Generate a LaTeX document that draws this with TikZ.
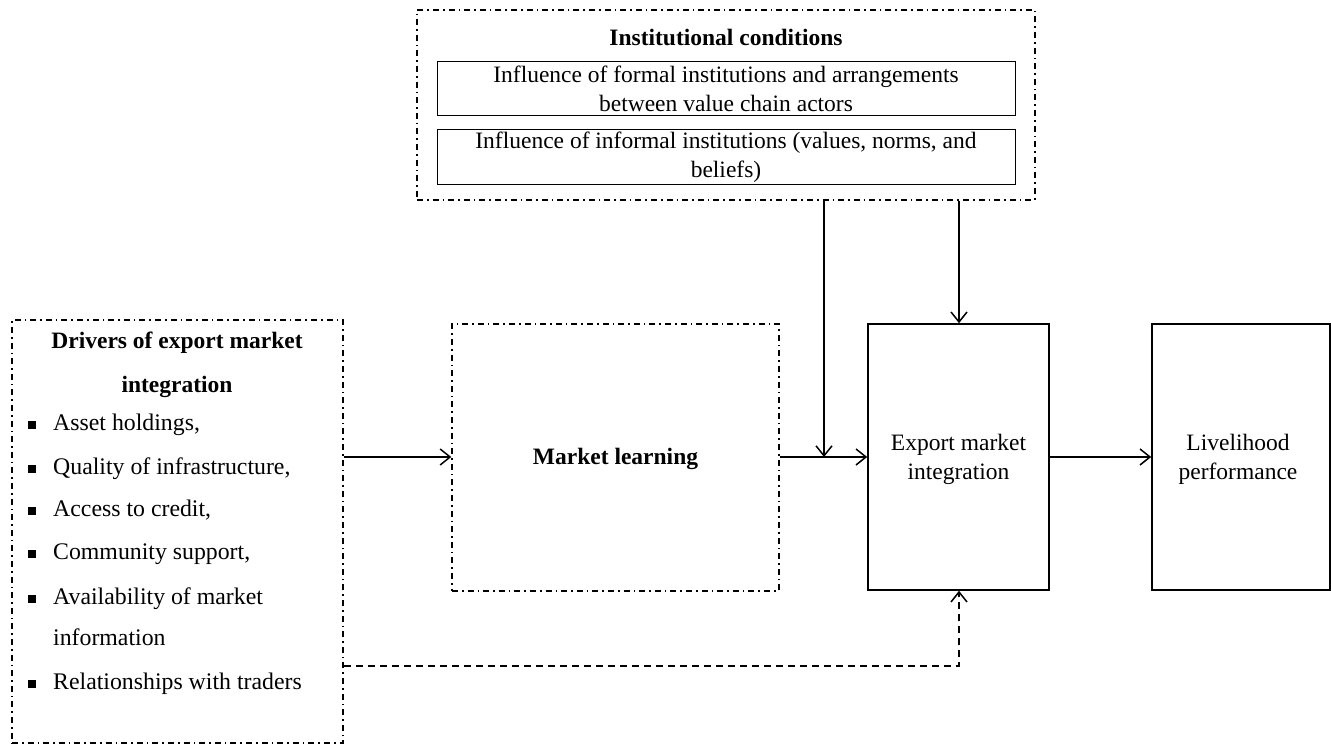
\documentclass[tikz,border=0pt]{standalone}
\usepackage{fontspec}
\setmainfont{Liberation Serif}
\usetikzlibrary{arrows.meta}
\tikzset{
  dashdot/.style={line width=1.3pt, dash pattern=on 6pt off 4pt on 1.6pt off 4pt},
  solidbox/.style={draw, line width=1.6pt, inner sep=0pt},
  thinbox/.style={draw, line width=1pt, inner sep=0pt, align=center},
  conn/.style={line width=1.6pt, -{Straight Barb[length=10pt,width=16pt,line width=1.5pt]}},
  dconn/.style={conn, dash pattern=on 7pt off 5pt},
  txt/.style={font=\fontsize{23.5}{27}\selectfont, inner sep=0pt, align=center},
  bulletsq/.style={fill, minimum size=7.5pt, inner sep=0pt},
}
\begin{document}
\begin{tikzpicture}[x=1pt,y=1pt]
\useasboundingbox (0,0) rectangle (1331,744);
% institutional conditions
\node[draw, dashdot, minimum width=618pt, minimum height=190pt, inner sep=0pt] (inst) at (726,639) {};
\node[txt, font=\fontsize{23.5}{27}\selectfont\bfseries] (insttitle) at (726,706) {Institutional conditions};
\node[thinbox, minimum width=578pt, minimum height=54pt, font=\fontsize{23.5}{29}\selectfont] (formal) at (726,655) {Influence of formal institutions and arrangements\\between value chain actors};
\node[thinbox, minimum width=578pt, minimum height=55pt, font=\fontsize{23.5}{29}\selectfont] (informal) at (726,586.5) {Influence of informal institutions (values, norms, and\\beliefs)};
% drivers
\node[draw, dashdot, minimum width=331pt, minimum height=423pt, inner sep=0pt] (drivers) at (177.5,212.5) {};
\node[txt, font=\fontsize{23.5}{27}\selectfont\bfseries] (dt1) at (177,401) {Drivers of export market};
\node[txt, font=\fontsize{23.5}{27}\selectfont\bfseries] (dt2) at (177,357) {integration};
\foreach \y/\t/\b [count=\i] in {316/{Asset holdings,}/1, 272/{Quality of infrastructure,}/1, 230/{Access to credit,}/1, 187/{Community support,}/1, 142/{Availability of market}/1, 101/{information}/0, 57/{Relationships with traders}/1}{
  \node[txt, anchor=mid west, font=\fontsize{23.8}{27}\selectfont] (item\i) at (53,\y) {\t};
  \ifnum\b=1 \node[bulletsq] (bul\i) at (32,\y+3) {};\fi
}
% market learning
\node[draw, dashdot, minimum width=327pt, minimum height=267pt, inner sep=0pt] (ml) at (615.5,286.5) {};
\node[txt, font=\fontsize{23.5}{27}\selectfont\bfseries] (mltext) at (615.5,285) {Market learning};
% export
\node[solidbox, minimum width=181pt, minimum height=266pt] (exp) at (958.5,287) {};
\node[txt, font=\fontsize{23.5}{29}\selectfont] (exptext) at (958.5,285) {Export market\\integration};
% livelihood
\node[solidbox, minimum width=178pt, minimum height=266pt] (liv) at (1241,287) {};
\node[txt, font=\fontsize{23.5}{29}\selectfont] (livtext) at (1238,285) {Livelihood\\performance};
% connectors
\coordinate (join) at (824,287);
\draw[conn] (drivers.east |- join) -- (ml.west |- join);
\draw[line width=1.6pt] (ml.east |- join) -- (join);
\draw[conn] (join) -- (exp.west |- join);
\draw[conn] (exp.east |- join) -- (liv.west |- join);
\draw[conn] (inst.south -| join) -- (join);
\draw[conn] (inst.south -| 959,0) -- (exp.north -| 959,0);
\coordinate (dstart) at (drivers.east |- 0,78);
\draw[dconn] (dstart) -- (959,78) -- (exp.south -| 959,0);
\end{tikzpicture}
\end{document}
